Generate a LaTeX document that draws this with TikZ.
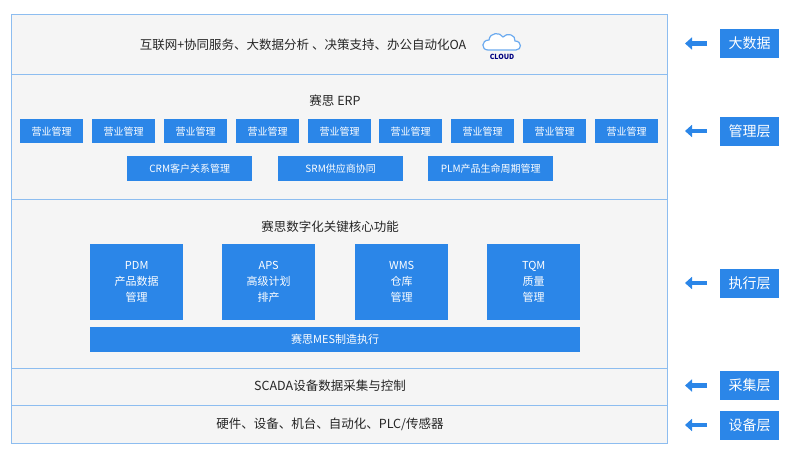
\documentclass[tikz,border=0pt]{standalone}
\usepackage{fontspec}
\setmainfont{Noto Sans CJK SC}
\usetikzlibrary{arrows.meta}
\definecolor{sblue}{HTML}{2B86E8}
\definecolor{band}{HTML}{F5F5F5}
\definecolor{edge}{HTML}{8DBDF0}
\tikzset{
  layer/.style={draw=edge, fill=band, line width=0.9pt},
  mod/.style={fill=sblue, text=white, font=\fontsize{10}{12}\selectfont, inner sep=0pt, anchor=north west},
  side/.style={fill=sblue, text=white, font=\fontsize{14}{16}\selectfont, minimum width=59pt, minimum height=29pt, inner sep=0pt},
  title/.style={font=\fontsize{12.5}{14}\selectfont, text=black!85},
  pointer/.style={-{Triangle[length=7pt,width=12pt]}, line width=4.5pt, sblue}
}
\begin{document}
\begin{tikzpicture}[x=1pt,y=-1pt]
	\useasboundingbox (0,0) rectangle (800,455);

	% layers
	\draw[layer] (11,14) rectangle (667,74);
	\draw[layer] (11,74) rectangle (667,199);
	\draw[layer] (11,199) rectangle (667,368);
	\draw[layer] (11,368) rectangle (667,405);
	\draw[layer] (11,405) rectangle (667,443);

	% big data
	\node[title] (oa) at (303,45) {互联网+协同服务、大数据分析 、决策支持、办公自动化OA};
	\draw[sblue!70, line width=1.2pt, fill=white]
	  (488,50) .. controls (481,50) and (481,40) .. (489,40)
	  .. controls (490,32) and (500,32) .. (503,37)
	  .. controls (507,32) and (516,35) .. (515,41)
	  .. controls (522,41) and (522,50) .. (516,50) -- cycle;
	\node[font=\fontsize{7}{8}\selectfont\bfseries, text=blue!50!black] (cloud) at (502,57) {CLOUD};

	% ERP
	\node[title] (erp) at (335,101) {赛思 ERP};
	\foreach \x [count=\i] in {20,92,164,236,308,379,451,523,595}
	  \node[mod, minimum width=63pt, minimum height=24pt] (yy\i) at (\x,119) {营业管理};
	\node[mod, minimum width=125pt, minimum height=25pt] (crm) at (127,156) {CRM客户关系管理};
	\node[mod, minimum width=125pt, minimum height=25pt] (srm) at (278,156) {SRM供应商协同};
	\node[mod, minimum width=125pt, minimum height=25pt] (plm) at (428,156) {PLM产品生命周期管理};

	% execution
	\node[title] (core) at (330,227) {赛思数字化关键核心功能};
	\foreach \x/\t [count=\i] in {90/{PDM\\产品数据\\管理},222/{APS\\高级计划\\排产},355/{WMS\\仓库\\管理},487/{TQM\\质量\\管理}}
	  \node[mod, minimum width=93pt, minimum height=76pt, align=center, font=\fontsize{11}{16}\selectfont] (fn\i) at (\x,244) {\t};
	\node[mod, minimum width=490pt, minimum height=25pt, font=\fontsize{11}{12}\selectfont] (mes) at (90,327) {赛思MES制造执行};

	% bottom layers
	\node[title] (scada) at (330,386) {SCADA设备数据采集与控制};
	\node[title] (hw) at (330,424) {硬件、设备、机台、自动化、PLC/传感器};

	% side labels
	\foreach \y/\t [count=\i] in {43.5/大数据,131/管理层,283/执行层,385.5/采集层,425/设备层}{
	  \node[side] (lv\i) at (749.5,\y) {\t};
	  \coordinate (tail\i) at (707,\y);
	  \draw[pointer] (tail\i) -- ++(-22,0);
	}

\end{tikzpicture}
\end{document}
